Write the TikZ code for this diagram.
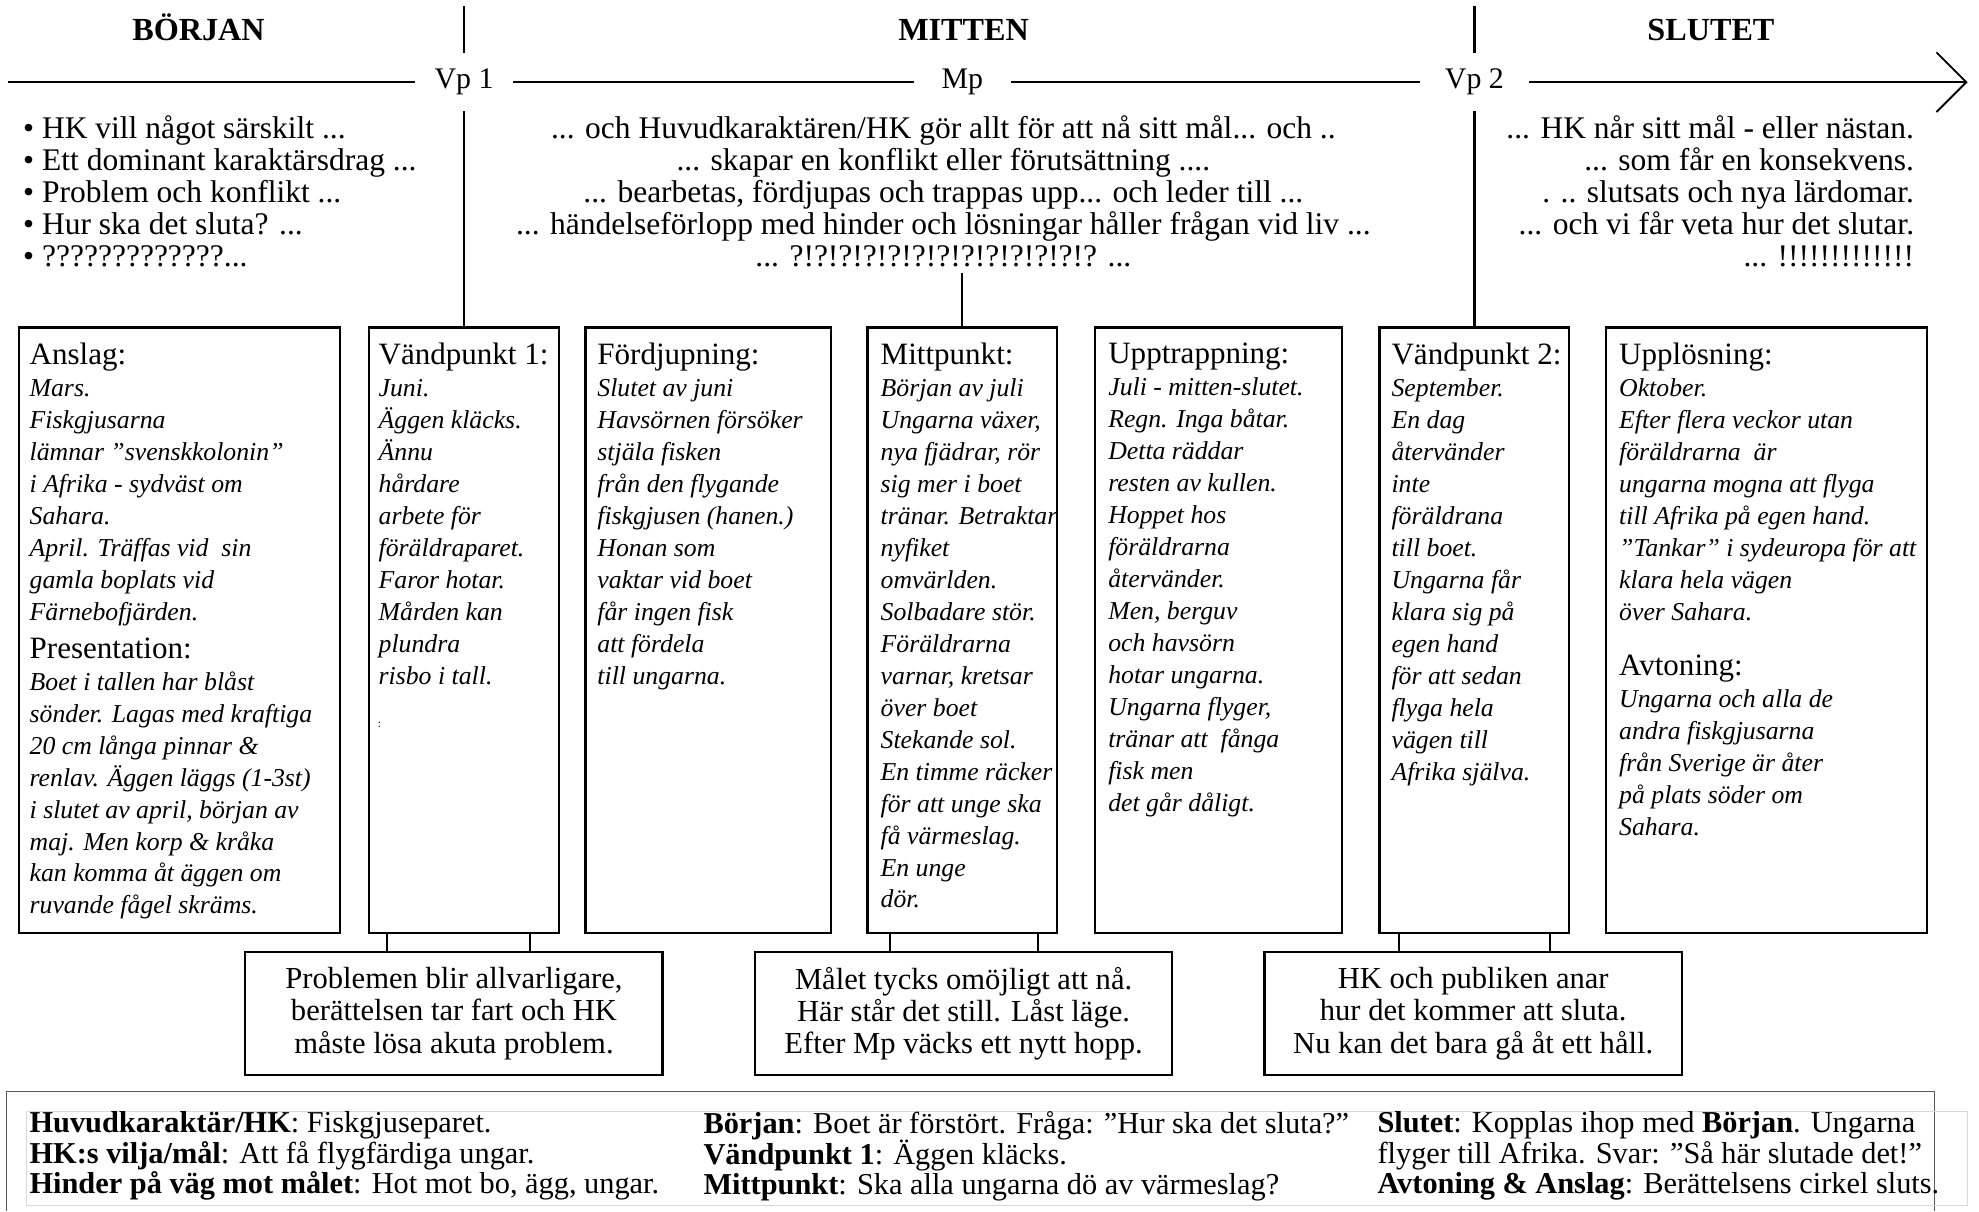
\documentclass[tikz,border=0pt]{standalone}
\usepackage{fontspec}
\setmainfont{Liberation Serif}
\usetikzlibrary{arrows.meta, positioning, calc, fit}

\newcommand{\rubrik}[1]{{\fontsize{13.5}{13.9}\selectfont\upshape #1}}
\newcommand{\toppstrut}{\lineskiplimit=-10pt\relax\rule{0pt}{13pt}}

\begin{document}
\begin{tikzpicture}[x=0.55pt, y=-0.55pt,
  card/.style={draw, line width=1pt, inner sep=0pt},
  cardtext/.style={anchor=north west, align=left, inner sep=0pt,
    execute at begin node=\toppstrut,
    font=\fontsize{11.2}{13.9}\selectfont\itshape},
  note/.style={draw, line width=1pt, align=center, minimum width=181.5pt,
    minimum height=53.4pt, font=\fontsize{13.3}{14}\selectfont},
  title/.style={anchor=base, inner sep=0pt, font=\fontsize{14}{16}\selectfont\bfseries},
  tllabel/.style={minimum width=42pt, minimum height=24.75pt, inner sep=0pt,
    font=\fontsize{13}{15}\selectfont},
  toptext/.style={anchor=north, inner sep=0pt, execute at begin node=\toppstrut,
    font=\fontsize{13.7}{13.9}\selectfont},
  legend/.style={anchor=north west, align=left, inner sep=0pt,
    execute at begin node=\toppstrut, font=\fontsize{13.2}{13.2}\selectfont},
  tline/.style={line width=0.8pt}]

\useasboundingbox (0,0) rectangle (1565,957.7);

% rubriker
\node[title] (borjan) at (157,32) {BÖRJAN};
\node[title] (mitten) at (762,32) {MITTEN};
\node[title] (slutet) at (1353,32) {SLUTET};

% tidslinje
\coordinate (tlstart) at (6,65);
\coordinate (tlend) at (1556,65);
\node[tllabel] (vp1lbl) at (367,65) {Vp 1};
\node[tllabel] (mplbl) at (761,65) {Mp};
\node[tllabel, minimum width=47pt] (vp2lbl) at (1166,65) {Vp 2};
\draw[tline] (tlstart) -- (vp1lbl) -- (mplbl) -- (vp2lbl);
\draw[tline, -{Straight Barb[length=13pt, width=26pt]}] (vp2lbl) -- (tlend);

\coordinate (vp1top) at (367,5);
\coordinate (vp2top) at (1166,5);
\draw[line width=0.9pt] (vp1top) -- (vp1lbl.north);
\draw[line width=0.9pt] (vp2top) -- (vp2lbl.north);

% texter under tidslinjen
\node[toptext, anchor=north west, align=left] (bullets) at (18,90.9)
  {• HK vill något särskilt ...\\
   • Ett dominant karaktärsdrag ...\\
   • Problem och konflikt ...\\
   • Hur ska det sluta? ...\\
   • ?????????????...};
\node[toptext, align=center] (midtext) at (746,90.9)
  {... och Huvudkaraktären/HK gör allt för att nå sitt mål... och ..\\
   ... skapar en konflikt eller förutsättning ....\\
   ... bearbetas, fördjupas och trappas upp... och leder till ...\\
   ... händelseförlopp med hinder och lösningar håller frågan vid liv ...\\
   ... ?!?!?!?!?!?!?!?!?!?!?!?!? ...};
\node[toptext, anchor=north east, align=right] (righttext) at (1514,90.9)
  {... HK når sitt mål - eller nästan.\\
   ... som får en konsekvens.\\
   . .. slutsats och nya lärdomar.\\
   ... och vi får veta hur det slutar.\\
   ... !!!!!!!!!!!!!};

% kort
\node[card, fit={(15,259) (269,738)}] (anslag) {};
\node[cardtext] (anslag-t) at ($(anslag.north west)+(9,12.9)$)
  {\rubrik{Anslag:}\\ Mars.\\ Fiskgjusarna\\ lämnar ”svenskkolonin”\\
   i Afrika - sydväst om\\ Sahara.\\ April. Träffas vid\ \ sin\\
   gamla boplats vid\\ Färnebofjärden.\\[2.6pt]
   \rubrik{Presentation:}\\ Boet i tallen har blåst\\ sönder. Lagas med kraftiga\\
   20 cm långa pinnar \&\\ renlav. Äggen läggs (1-3st)\\
   i slutet av april, början av\\ maj. Men korp \& kråka\\
   kan komma åt äggen om\\ ruvande fågel skräms.};

\node[card, fit={(292,259) (442,738)}] (vp1) {};
\node[cardtext] (vp1-t) at ($(vp1.north west)+(8,12.9)$)
  {\rubrik{Vändpunkt 1:}\\ Juni.\\ Äggen kläcks.\\ Ännu\\ hårdare\\ arbete för\\
   föräldraparet.\\ Faror hotar.\\ Mården kan\\ plundra\\ risbo i tall.};
\node[font=\tiny, inner sep=0pt] (prick) at (300,573) {:};

\node[card, fit={(463,259) (657,738)}] (fordj) {};
\node[cardtext] (fordj-t) at ($(fordj.north west)+(10,12.9)$)
  {\rubrik{Fördjupning:}\\ Slutet av juni\\ Havsörnen försöker\\ stjäla fisken\\
   från den flygande\\ fiskgjusen (hanen.)\\ Honan som\\ vaktar vid boet\\
   får ingen fisk\\ att fördela\\ till ungarna.};

\node[card, fit={(686,259) (836,738)}] (mitt) {};
\node[cardtext] (mitt-t) at ($(mitt.north west)+(11,12.9)$)
  {\rubrik{Mittpunkt:}\\ Början av juli\\ Ungarna växer,\\ nya fjädrar, rör\\
   sig mer i boet\\ tränar. Betraktar\\ nyfiket\\ omvärlden.\\ Solbadare stör.\\
   Föräldrarna\\ varnar, kretsar\\ över boet\\ Stekande sol.\\ En timme räcker\\
   för att unge ska\\ få värmeslag.\\ En unge\\ dör.};

\node[card, fit={(866,259) (1061,738)}] (upptr) {};
\node[cardtext] (upptr-t) at ($(upptr.north west)+(11,12.9)$)
  {\rubrik{Upptrappning:}\\ Juli - mitten-slutet.\\ Regn. Inga båtar.\\ Detta räddar\\
   resten av kullen.\\ Hoppet hos\\ föräldrarna\\ återvänder.\\ Men, berguv\\
   och havsörn\\ hotar ungarna.\\ Ungarna flyger,\\ tränar att\ \ fånga\\
   fisk men\\ det går dåligt.};

\node[card, fit={(1091,259) (1241,738)}] (vp2) {};
\node[cardtext] (vp2-t) at ($(vp2.north west)+(10,12.9)$)
  {\rubrik{Vändpunkt 2:}\\ September.\\ En dag\\ återvänder\\ inte\\ föräldrana\\
   till boet.\\ Ungarna får\\ klara sig på\\ egen hand\\ för att sedan\\
   flyga hela\\ vägen till\\ Afrika själva.};

\node[card, fit={(1270,259) (1524,738)}] (upplos) {};
\node[cardtext] (upplos-t) at ($(upplos.north west)+(11,12.9)$)
  {\rubrik{Upplösning:}\\ Oktober.\\ Efter flera veckor utan\\ föräldrarna\ \ är\\
   ungarna mogna att flyga\\ till Afrika på egen hand.\\
   ”Tankar” i sydeuropa för att\\ klara hela vägen\\ över Sahara.\\[10pt]
   \rubrik{Avtoning:}\\ Ungarna och alla de\\ andra fiskgjusarna\\
   från Sverige är åter\\ på plats söder om\\ Sahara.};

\coordinate (mptop) at (761,216);
\draw[line width=0.9pt] (mptop) -- (mitt.north);
\draw[line width=0.9pt] (vp1lbl.south) -- (vp1lbl.south |- vp1.north);
\draw[line width=0.9pt] (vp2lbl.south) -- (vp2lbl.south |- vp2.north);

% vändpunkternas följder
\node[note] (prob) at (359,801.5)
  {Problemen blir allvarligare,\\ berättelsen tar fart och HK\\ måste lösa akuta problem.};
\node[note] (malet) at (762,801.5)
  {Målet tycks omöjligt att nå.\\ Här står det still. Låst läge.\\ Efter Mp väcks ett nytt hopp.};
\node[note] (anar) at (1165,801.5)
  {HK och publiken anar\\ hur det kommer att sluta.\\ Nu kan det bara gå åt ett håll.};

\foreach \a/\b/\dx in {vp1/prob/-61, vp1/prob/52, mitt/malet/-57, mitt/malet/60,
    vp2/anar/-60, vp2/anar/60} {
  \path ($(\a.south)+(\dx,0)$) coordinate (s);
  \draw[line width=0.9pt] (s) -- (s |- \b.north);
}

% sammanfattning
\draw[gray!70!black, line width=0.5pt] (5,957.7) -- (5,863) -- (1530,863) -- (1530,957.7);
\draw[gray!30, line width=0.5pt] (21,879) rectangle (1556,953);
\node[legend] (leg1) at (23,878.9)
  {\textbf{Huvudkaraktär/HK}: Fiskgjuseparet.\\
   \textbf{HK:s vilja/mål}: Att få flygfärdiga ungar.\\
   \textbf{Hinder på väg mot målet}: Hot mot bo, ägg, ungar.};
\node[legend] (leg2) at (556,878.9)
  {\textbf{Början}: Boet är förstört. Fråga: ”Hur ska det sluta?”\\
   \textbf{Vändpunkt 1}: Äggen kläcks.\\
   \textbf{Mittpunkt}: Ska alla ungarna dö av värmeslag?};
\node[legend] (leg3) at (1089,878.9)
  {\textbf{Slutet}: Kopplas ihop med \textbf{Början}. Ungarna\\
   flyger till Afrika. Svar: ”Så här slutade det!”\\
   \textbf{Avtoning \& Anslag}: Berättelsens cirkel sluts.};
\end{tikzpicture}
\end{document}
